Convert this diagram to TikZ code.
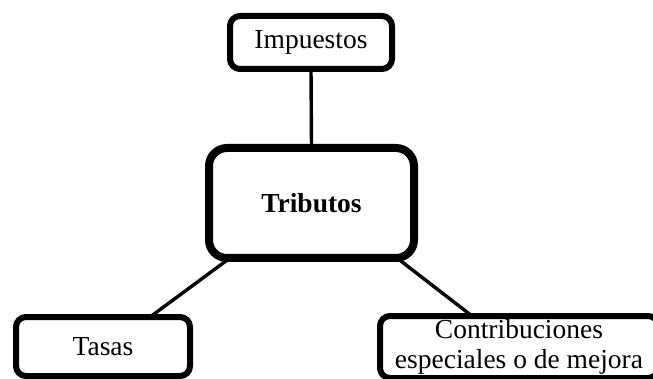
\documentclass[tikz,border=0pt]{standalone}
\usepackage{fontspec}
\setmainfont{Liberation Serif}
\usepackage{tikz}
\usetikzlibrary{shadows}

\begin{document}
\begin{tikzpicture}[%
        x=0.5pt, y=-0.5pt,
        font=\fontsize{13.75}{15}\selectfont,
        kasten/.style={draw, line width=3pt, rounded corners=5pt,
            fill=white, outer sep=0pt, inner sep=2pt,
            drop shadow={shadow xshift=1.2pt, shadow yshift=-1.2pt,
                fill=black!30, opacity=0.4}},
        hauptkasten/.style={kasten, line width=4pt, rounded corners=9pt},
        ast/.style={draw, line width=1.7pt}
        ]
            \clip (0,0) rectangle (653,379);

            % Knoten
            \node[kasten, minimum width=81pt, minimum height=26.5pt]
                (impuestos) at (311,42.5) {Impuestos};
            \node[hauptkasten, minimum width=102.5pt, minimum height=55pt]
                (tributos) at (311.5,203) {\textbf{Tributos}};
            \node[kasten, minimum width=87pt, minimum height=29.5pt]
                (tasas) at (103,346.5) {Tasas};
            \node[kasten, minimum width=139pt, minimum height=31pt,
                inner ysep=0pt, align=center]
                (contribuciones) at (519,347) {Contribuciones\\especiales o de mejora};

            % Verbindungen
            \draw[ast] (impuestos.south) -- (tributos.north);
            \draw[ast] ([xshift=10.5pt]tributos.south west)
                    -- ([xshift=-20pt]tasas.north east);
            \draw[ast] ([xshift=-8.5pt]tributos.south east)
                    -- ([xshift=46pt]contribuciones.north west);
\end{tikzpicture}
\end{document}
